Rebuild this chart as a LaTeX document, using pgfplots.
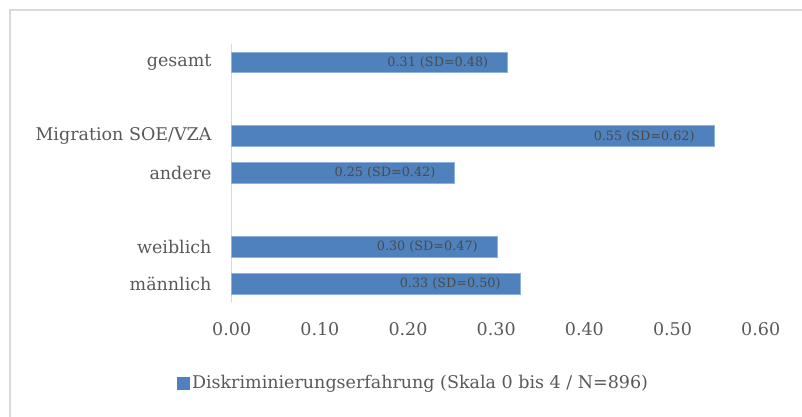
\documentclass[border=0pt]{standalone}
\usepackage{pgfplots}
\pgfplotsset{compat=1.18}
\usepackage{pgfplotstable}
\usepackage{fontspec}
\setmainfont{DejaVu Serif}
\usetikzlibrary{calc}
\definecolor{barblue}{HTML}{4F81BD}
\definecolor{baredge}{HTML}{8EB0DC}
\definecolor{txtgray}{HTML}{595959}
\definecolor{lblgray}{HTML}{4A4A4A}
\definecolor{axgray}{HTML}{D9D9D9}
\definecolor{bordergray}{HTML}{D9D9D9}
\pgfplotstableread[col sep=comma]{
v,pos,label
0.327,0,0.33 (SD=0.50)
0.301,1,0.30 (SD=0.47)
0.253,3,0.25 (SD=0.42)
0.547,4,0.55 (SD=0.62)
0.313,6,0.31 (SD=0.48)
}\datatable
\begin{document}
\begin{tikzpicture}[x=1pt,y=1pt]
\begin{axis}[
  scale only axis, width=529pt, height=258pt,
  xmin=0, xmax=0.6, ymin=-0.5, ymax=6.5,
  axis x line*=bottom,
  x axis line style={draw=none},
  axis y line*=left,
  y axis line style={axgray, line width=0.9pt, -},
  xtick={0,0.1,0.2,0.3,0.4,0.5,0.6},
  xticklabels={0.00,0.10,0.20,0.30,0.40,0.50,0.60},
  ytick={0,1,3,4,6},
  yticklabels={männlich,weiblich,andere,Migration SOE/VZA,gesamt},
  major tick length=0pt,
  tick label style={font=\fontsize{17.5}{20}\selectfont, text=txtgray},
  yticklabel style={anchor=east, xshift=-20pt, inner sep=0pt},
  xticklabel style={anchor=center, yshift=-27pt, inner sep=0pt},
  xbar, bar width=20.7pt, bar shift=0pt,
  point meta=explicit symbolic,
  nodes near coords,
  every node near coord/.append style={anchor=east, xshift=-19pt, inner sep=0pt,
     font=\fontsize{12.8}{15}\selectfont, text=lblgray},
  legend style={draw=none, fill=none, at={(-0.1034,-0.314)}, anchor=west,
     font=\fontsize{17.5}{20}\selectfont, text=txtgray, inner sep=0pt},
  legend cell align=left,
  legend image code/.code={\fill[barblue] (0pt,-6pt) rectangle (12pt,6pt);},
  clip=false,
]
\addplot[fill=barblue, draw=baredge, line width=0.8pt] table[x=v, y=pos, meta=label]{\datatable};
\addlegendentry{Diskriminierungserfahrung (Skala 0 bis 4 / N=896)}
\coordinate (O) at (axis cs:0,-0.5);
\end{axis}
\pgfresetboundingbox
\useasboundingbox ($(O)+(-231.7,-114)$) rectangle ++(802,416);
\draw[bordergray, line width=1.2pt] ($(O)+(-221.7,-130)$) -- ++(0,422) -- ++(820,0);
\end{tikzpicture}
\end{document}
